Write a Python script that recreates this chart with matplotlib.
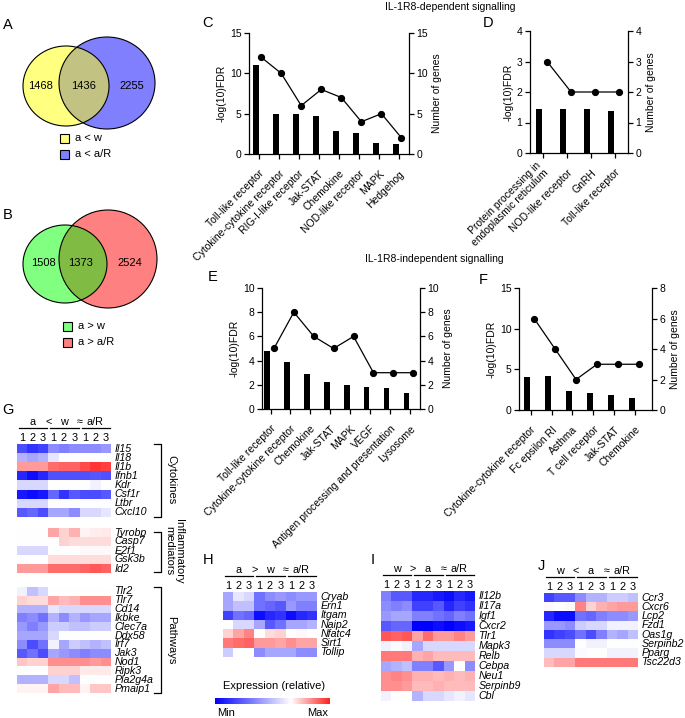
import numpy as np
import matplotlib
matplotlib.use("Agg")
import matplotlib.pyplot as plt
from matplotlib.patches import Ellipse, Rectangle
from matplotlib.colors import LinearSegmentedColormap

plt.rcParams['font.family'] = ['Liberation Sans', 'DejaVu Sans']

# ---------------- data ----------------
venn_A_counts = [1468, 1436, 2255]
venn_A_labels = ["a < w", "a < a/R"]
venn_B_counts = [1508, 1373, 2524]
venn_B_labels = ["a > w", "a > a/R"]

C_cats = ["Toll-like receptor", "Cytokine-cytokine receptor", "RIG-I-like receptor", "Jak-STAT",
          "Chemokine", "NOD-like receptor", "MAPK", "Hedgehog"]
C_fdr = [11.0, 5.0, 4.9, 4.7, 2.9, 2.6, 1.4, 1.2]
C_genes = [12, 10, 6, 8, 7, 4, 5, 2]

D_cats = ["Protein processing in\nendoplasmic reticulum", "NOD-like receptor", "GnRH", "Toll-like receptor"]
D_fdr = [1.45, 1.45, 1.43, 1.38]
D_genes = [3, 2, 2, 2]

E_cats = ["Toll-like receptor", "Cytokine-cytokine receptor", "Chemokine", "Jak-STAT", "MAPK", "VEGF",
          "Antigen processing and presentation", "Lysosome"]
E_fdr = [4.8, 3.9, 2.9, 2.2, 2.0, 1.85, 1.75, 1.3]
E_genes = [5, 8, 6, 5, 6, 3, 3, 3]

F_cats = ["Cytokine-cytokine receptor", "Fc epsilon RI", "Asthma", "T cell receptor", "Jak-STAT", "Chemokine"]
F_fdr = [4.0, 4.2, 2.3, 2.1, 1.8, 1.5]
F_genes = [6, 4, 2, 3, 3, 3]

G_cyt_genes = ["Il15", "Il18", "Il1b", "Ifnb1", "Kdr", "Csf1r", "Ltbr", "Cxcl10"]
G_cyt = [
    [-0.70, -0.80, -0.75, -0.45, -0.50, -0.45, -0.45, -0.45, -0.40],
    [-0.30, -0.35, -0.30, -0.10, 0.00, 0.00, 0.00, 0.00, 0.00],
    [0.45, 0.45, 0.45, 0.65, 0.70, 0.70, 0.80, 0.90, 0.85],
    [-0.85, -0.95, -0.85, -0.68, -0.68, -0.68, -0.68, -0.66, -0.68],
    [-0.15, -0.15, -0.15, 0.00, 0.00, 0.00, 0.00, -0.05, 0.00],
    [-0.90, -0.95, -0.90, -0.60, -0.80, -0.65, -0.70, -0.70, -0.65],
    [-0.15, -0.15, -0.15, 0.00, 0.00, 0.00, 0.00, 0.00, 0.00],
    [-0.65, -0.60, -0.70, -0.35, -0.35, -0.45, -0.15, -0.15, -0.10],
]
G_inf_genes = ["Tyrobp", "Casp7", "E2f1", "Gsk3b", "Id2"]
G_inf = [
    [0.00, 0.00, 0.00, 0.40, 0.20, 0.35, 0.05, 0.08, 0.10],
    [0.00, 0.00, 0.00, 0.00, 0.20, 0.15, 0.15, 0.15, 0.15],
    [-0.15, -0.15, -0.15, 0.00, 0.00, 0.00, 0.03, 0.03, 0.03],
    [0.00, 0.00, 0.00, 0.15, 0.15, 0.15, 0.15, 0.15, 0.15],
    [0.45, 0.45, 0.45, 0.65, 0.65, 0.65, 0.70, 0.75, 0.70],
]
G_path_genes = ["Tlr2", "Tlr7", "Cd14", "Ikbke", "Clec7a", "Ddx58", "Irf7", "Jak3", "Nod1", "Ripk3",
                "Pla2g4a", "Pmaip1"]
G_path = [
    [-0.05, -0.25, -0.15, 0.00, 0.00, 0.00, 0.00, 0.00, 0.00],
    [0.20, 0.15, 0.15, 0.40, 0.30, 0.35, 0.50, 0.50, 0.50],
    [-0.30, -0.30, -0.30, -0.10, -0.15, -0.15, -0.15, -0.15, -0.15],
    [-0.50, -0.45, -0.55, -0.30, -0.45, -0.30, -0.40, -0.35, -0.35],
    [-0.40, -0.50, -0.40, -0.20, -0.20, -0.25, -0.25, -0.20, -0.20],
    [-0.35, -0.35, -0.35, -0.15, 0.00, 0.00, 0.00, 0.00, 0.00],
    [-0.45, -0.70, -0.55, -0.05, -0.35, -0.20, -0.25, -0.30, -0.25],
    [-0.65, -0.55, -0.70, -0.35, -0.40, -0.45, -0.50, -0.45, -0.45],
    [0.25, 0.20, 0.20, 0.50, 0.50, 0.50, 0.50, 0.45, 0.50],
    [0.00, 0.00, 0.00, 0.20, 0.20, 0.20, 0.10, 0.10, 0.10],
    [-0.30, -0.30, -0.30, -0.15, -0.15, -0.25, 0.00, 0.00, 0.00],
    [0.05, 0.05, 0.05, 0.40, 0.30, 0.30, 0.05, 0.25, 0.25],
]
H_genes = ["Cryab", "Ern1", "Itgam", "Naip2", "Nfatc4", "Sirt1", "Tollip"]
H_vals = [
    [-0.35, -0.10, -0.15, -0.55, -0.45, -0.40, -0.45, -0.40, -0.40],
    [-0.35, -0.25, -0.25, -0.55, -0.60, -0.65, -0.40, -0.50, -0.50],
    [-0.75, -0.55, -0.60, -0.95, -0.85, -0.80, -0.95, -0.85, -0.80],
    [0.00, -0.15, -0.15, -0.35, -0.65, -0.55, -0.35, -0.35, -0.30],
    [0.20, 0.40, 0.55, 0.00, 0.15, 0.20, 0.00, 0.03, 0.00],
    [0.60, 0.65, 0.70, 0.45, 0.45, 0.40, 0.50, 0.40, 0.40],
    [-0.20, 0.00, 0.00, -0.45, -0.35, -0.35, -0.35, -0.45, -0.45],
]
I_genes = ["Il12b", "Il17a", "Igf1", "Cxcr2", "Tlr1", "Mapk3", "Relb", "Cebpa", "Neu1", "Serpinb9", "Cbl"]
I_vals = [
    [-0.50, -0.65, -0.65, -0.85, -0.85, -0.90, -0.95, -0.85, -0.90],
    [-0.45, -0.50, -0.45, -0.75, -0.75, -0.65, -0.85, -0.75, -0.80],
    [-0.40, -0.35, -0.35, -0.50, -0.50, -0.55, -0.60, -0.50, -0.55],
    [-0.65, -0.60, -0.60, -1.00, -1.00, -0.95, -1.00, -0.95, -0.90],
    [0.75, 0.70, 0.75, 0.40, 0.65, 0.45, 0.45, 0.55, 0.45],
    [-0.05, -0.02, -0.05, -0.35, -0.15, -0.15, -0.15, -0.15, -0.15],
    [0.60, 0.60, 0.60, 0.35, 0.40, 0.30, 0.30, 0.30, 0.30],
    [-0.35, -0.30, -0.25, -0.50, -0.50, -0.65, -0.40, 0.00, -0.45],
    [0.50, 0.55, 0.50, 0.35, 0.35, 0.30, 0.35, 0.30, 0.35],
    [0.50, 0.50, 0.45, 0.30, 0.30, 0.35, 0.30, 0.30, 0.30],
    [-0.05, 0.00, 0.00, -0.30, -0.15, -0.15, -0.10, -0.05, -0.10],
]
J_genes = ["Ccr3", "Cxcr6", "Lcp2", "Fzd1", "Oas1g", "Serpinb2", "Pparg", "Tsc22d3"]
J_vals = [
    [-0.75, -0.65, -0.65, -0.45, -0.30, -0.30, -0.20, -0.20, -0.25],
    [0.03, 0.00, 0.03, 0.55, 0.20, 0.35, 0.40, 0.45, 0.45],
    [-0.85, -0.95, -0.95, -0.55, -0.60, -0.50, -0.45, -0.45, -0.40],
    [-0.40, -0.40, -0.45, -0.20, -0.15, -0.15, -0.05, -0.05, -0.05],
    [-0.80, -0.75, -0.70, -0.55, -0.70, -0.50, -0.30, -0.35, -0.25],
    [-0.45, -0.45, -0.45, 0.00, -0.05, -0.05, 0.00, 0.00, 0.00],
    [-0.15, -0.15, -0.15, -0.02, 0.00, 0.00, -0.05, -0.05, -0.05],
    [0.30, 0.40, 0.40, 0.60, 0.60, 0.60, 0.60, 0.60, 0.60],
]
G_header = ["a", "<", "w", "≈", "a/R"]
H_header = ["a", ">", "w", "≈", "a/R"]
I_header = ["w", ">", "a", "≈", "a/R"]
J_header = ["w", "<", "a", "≈", "a/R"]
replicates = ["1", "2", "3"]

# ---------------- figure ----------------
W, H = 685, 718
fig = plt.figure(figsize=(W / 100, H / 100), dpi=100)
fig.patch.set_facecolor('white')


def px_ax(x0, y0, x1, y1):
    return fig.add_axes([x0 / W, 1 - y1 / H, (x1 - x0) / W, (y1 - y0) / H])


ov = fig.add_axes([0, 0, 1, 1], zorder=10)
ov.set_xlim(0, W)
ov.set_ylim(H, 0)
ov.set_axis_off()
ov.patch.set_alpha(0)


def T(x, y, s, **kw):
    kw.setdefault('ha', 'center')
    kw.setdefault('va', 'center')
    kw.setdefault('fontsize', 7.5)
    ov.text(x, y, s, **kw)


# panel letters
for (lx, ly, s) in [(8, 25, "A"), (8, 215, "B"), (208, 23, "C"), (488, 23, "D"), (213, 277, "E"),
                    (483, 280, "F"), (8, 410, "G"), (208, 560, "H"), (373, 560, "I"), (541, 566, "J")]:
    T(lx, ly, s, fontsize=10.5)

T(450, 7, "IL-1R8-dependent signalling", fontsize=7.5)
T(434, 259, "IL-1R8-independent signalling", fontsize=7.5)


# ---------------- Venn ----------------
def venn(c1, s1, c2, s2, col1, col2, colov, counts, tpos, labels, lx, ly):
    p2 = Ellipse(c2, s2[0], s2[1], fc=col2, ec='none')
    ov.add_patch(p2)
    p1 = Ellipse(c1, s1[0], s1[1], fc=col1, ec='none')
    ov.add_patch(p1)
    pov = Ellipse(c1, s1[0], s1[1], fc=colov, ec='none')
    ov.add_patch(pov)
    pov.set_clip_path(p2)
    ov.add_patch(Ellipse(c1, s1[0], s1[1], fc='none', ec='black', lw=0.8))
    ov.add_patch(Ellipse(c2, s2[0], s2[1], fc='none', ec='black', lw=0.8))
    for (tx, ty), n in zip(tpos, counts):
        T(tx, ty, str(n), fontsize=8)
    for k, (lab, col) in enumerate(zip(labels, [col1, col2])):
        ov.add_patch(Rectangle((lx, ly + 16 * k - 4.5), 9.5, 9.5, fc=col, ec='black', lw=0.8))
        T(lx + 15, ly + 16 * k, lab, ha='left', fontsize=8)


venn((66, 86), (86, 80), (107, 83), (96, 92), '#FFFF80', '#8080FF', '#C2C283',
     venn_A_counts, [(41, 86), (84, 86), (132, 86)], venn_A_labels, 60, 138)
venn((65, 264), (84, 78), (108, 259), (98, 98), '#80FF80', '#FF8080', '#80BB44',
     venn_B_counts, [(43, 263), (81, 263), (130, 263)], venn_B_labels, 63, 326)


# ---------------- combo charts ----------------
def combo(box, cats, fdr, ngenes, lmax, lticks, rmax, rticks, xlim, off, bw):
    ax = px_ax(*box)
    x = np.arange(len(cats))
    ax.bar(x - off, fdr, width=bw, color='black')
    ax.set_ylim(0, lmax)
    ax.set_yticks(lticks)
    ax.set_xlim(*xlim)
    ax.set_xticks(x)
    labs = ax.set_xticklabels(cats, rotation=45, ha='right', va='top', rotation_mode='anchor', fontsize=7.7)
    for lab in labs:
        if '\n' in lab.get_text():
            lab.set_va('center')
            lab.set_linespacing(1.0)
    ax2 = ax.twinx()
    ax2.plot(x + off, ngenes, color='black', lw=0.9, marker='o', ms=4.2, clip_on=False)
    ax2.set_ylim(0, rmax)
    ax2.set_yticks(rticks)
    ax.spines['top'].set_visible(False)
    ax.spines['right'].set_visible(False)
    ax2.spines['top'].set_visible(False)
    ax2.spines['left'].set_visible(False)
    ax2.spines['bottom'].set_visible(False)
    for a in (ax, ax2):
        for sp in a.spines.values():
            sp.set_linewidth(0.9)
        a.tick_params(length=3.5, width=0.9, labelsize=7.5, pad=2)
    ax.tick_params(axis='x', pad=7)
    ax.set_ylabel('-log(10)FDR', fontsize=7.5, labelpad=2)
    ax2.set_ylabel('Number of genes', fontsize=7.5, labelpad=3)
    return ax


combo((249, 33, 409, 154), C_cats, C_fdr, C_genes, 15, [0, 5, 10, 15], 15, [0, 5, 10, 15],
      (-0.48, 7.5), 0.125, 0.3)
combo((530, 31, 628, 153), D_cats, D_fdr, D_genes, 4, [0, 1, 2, 3, 4], 4, [0, 1, 2, 3, 4],
      (-0.54, 3.54), 0.17, 0.25)
combo((262, 288, 420, 409), E_cats, E_fdr, E_genes, 10, [0, 2, 4, 6, 8, 10], 10, [0, 2, 4, 6, 8, 10],
      (-0.43, 7.51), 0.17, 0.28)
combo((519, 288, 652, 410), F_cats, F_fdr, F_genes, 15, [0, 5, 10, 15], 8, [0, 2, 4, 6, 8],
      (-0.55, 5.79), 0.17, 0.28)

# ---------------- heatmaps ----------------
hm_cmap = LinearSegmentedColormap.from_list('hm', [(0, '#0000FF'), (0.5, '#FFFFFF'), (1, '#FF2020')])
cb_cmap = LinearSegmentedColormap.from_list('cb', [(0, '#0000FF'), (0.66, '#FFFFFF'), (1, '#FF2020')])


def heat(box, vals, genes):
    ax = px_ax(*box)
    ax.imshow(np.array(vals), cmap=hm_cmap, vmin=-1, vmax=1, aspect='auto', interpolation='nearest')
    ax.set_axis_off()
    for i, g in enumerate(genes):
        ax.annotate(g, xy=(8.5, i), xytext=(2.5, 0), textcoords='offset points', va='center',
                    ha='left', style='italic', fontsize=7.7, annotation_clip=False)
    return ax


def header(box, hdr):
    x0, y0, x1, y1 = box
    cw = (x1 - x0) / 9
    xs = [x0 + 1.5 * cw, x0 + 3 * cw, x0 + 4.5 * cw, x0 + 6 * cw, x0 + 7.5 * cw]
    for xx, s in zip(xs, hdr):
        T(xx, y0 - 22, s, fontsize=7.8)
    for g in range(3):
        ov.plot([x0 + (3 * g + 0.2) * cw, x0 + (3 * g + 2.9) * cw], [y0 - 16, y0 - 16], color='black', lw=0.9)
        for j in range(3):
            T(x0 + (3 * g + j + 0.5) * cw, y0 - 6, replicates[j], fontsize=7.8)


G_boxes = [(17, 444, 111, 517), (17, 528, 111, 573), (17, 587, 111, 693)]
heat(G_boxes[0], G_cyt, G_cyt_genes)
heat(G_boxes[1], G_inf, G_inf_genes)
heat(G_boxes[2], G_path, G_path_genes)
header(G_boxes[0], G_header)


def bracket(y0, y1, x=161):
    ov.plot([x - 7, x, x, x - 7], [y0, y0, y1, y1], color='black', lw=0.9)


bracket(444, 517)
bracket(532, 572)
bracket(587, 693)
T(171, 480, "Cytokines", rotation=-90, fontsize=8)
T(174, 551, "Inflammatory\nmediators", rotation=-90, fontsize=8, linespacing=1.0)
T(171, 640, "Pathways", rotation=-90, fontsize=8)

H_box = (223, 592, 317, 657)
I_box = (381, 591, 475, 701)
J_box = (544, 593, 638, 667)
heat(H_box, H_vals, H_genes)
header(H_box, H_header)
heat(I_box, I_vals, I_genes)
header(I_box, I_header)
heat(J_box, J_vals, J_genes)
header(J_box, J_header)

# colorbar
cax = px_ax(215, 698, 330, 704)
cax.imshow(np.linspace(0, 1, 256)[None, :], cmap=cb_cmap, aspect='auto', extent=(0, 1, 0, 1))
cax.set_axis_off()
T(274, 686, "Expression (relative)", fontsize=8)
T(226, 713, "Min", fontsize=8)
T(318, 713, "Max", fontsize=8)

fig.savefig("out.png", dpi=100)
